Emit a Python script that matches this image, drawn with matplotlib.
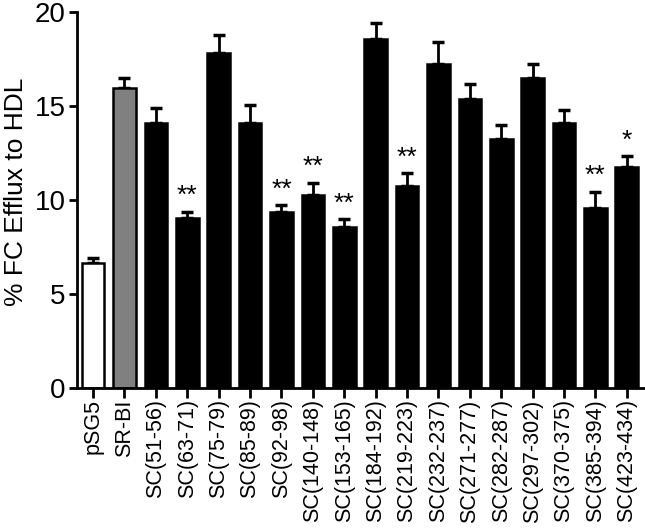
import matplotlib.pyplot as plt

plt.rcParams['font.family'] = ['Liberation Sans', 'DejaVu Sans']

labels = ['pSG5', 'SR-BI', 'SC(51-56)', 'SC(63-71)', 'SC(75-79)', 'SC(85-89)',
          'SC(92-98)', 'SC(140-148)', 'SC(153-165)', 'SC(184-192)', 'SC(219-223)',
          'SC(232-237)', 'SC(271-277)', 'SC(282-287)', 'SC(297-302)',
          'SC(370-375)', 'SC(385-394)', 'SC(423-434)']
values = [6.65, 15.97, 14.08, 9.03, 17.84, 14.11, 9.38, 10.27, 8.55, 18.56,
          10.76, 17.27, 15.37, 13.28, 16.49, 14.08, 9.56, 11.74]
errors = [0.25, 0.53, 0.85, 0.35, 0.94, 0.94, 0.35, 0.65, 0.44, 0.87,
          0.66, 1.12, 0.82, 0.71, 0.78, 0.74, 0.87, 0.60]
stars = ['', '', '', '**', '', '', '**', '**', '**', '', '**',
         '', '', '', '', '', '**', '*']
colors = ['white', '#808080'] + ['black'] * 16

fig = plt.figure(figsize=(6.45, 5.31), dpi=100)
ax = fig.add_axes([0.119, 0.269, 0.881, 0.708])

x = range(len(labels))
ax.bar(x, values, width=0.72, color=colors, edgecolor='black', linewidth=1.8,
       zorder=2)
ax.errorbar(x, values, yerr=[[0] * len(errors), errors], fmt='none',
            ecolor='black', elinewidth=2, capsize=4.5, capthick=2.5, zorder=1)

for i, s in enumerate(stars):
    if s:
        ax.text(i, values[i] + errors[i] + 0.2, s, ha='center', va='bottom',
                fontsize=19)

ax.set_xlim(-0.52, 17.58)
ax.set_ylim(0, 20)
ax.set_yticks([0, 5, 10, 15, 20])
ax.set_xticks(list(x))
ax.set_xticklabels(labels, rotation=90, fontsize=15.5)
ax.tick_params(axis='y', labelsize=20, width=2, length=6, pad=2)
ax.tick_params(axis='x', width=2, length=7, pad=1)
ax.set_ylabel('% FC Efflux to HDL', fontsize=19)
ax.yaxis.set_label_coords(-0.086, 0.521)

for side in ['top', 'right']:
    ax.spines[side].set_visible(False)
for side in ['left', 'bottom']:
    ax.spines[side].set_linewidth(2)

fig.savefig('out.png', dpi=100)
